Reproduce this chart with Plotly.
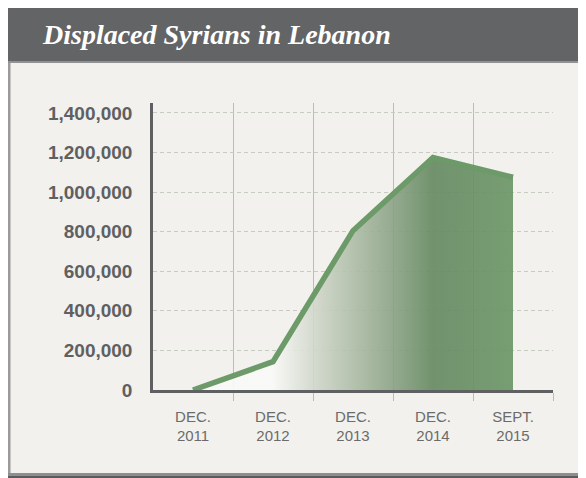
import plotly.graph_objects as go

# ---- data ----
categories = ["DEC.<br>2011", "DEC.<br>2012", "DEC.<br>2013", "DEC.<br>2014", "SEPT.<br>2015"]
displaced = [0, 143000, 805000, 1175000, 1075000]
y_ticks = [0, 200000, 400000, 600000, 800000, 1000000, 1200000, 1400000]
title_text = "Displaced Syrians in Lebanon"

x_pos = list(range(len(categories)))
boundaries = [i + 0.5 for i in x_pos]

# ---- geometry (figure pixel coords; page adds an 8px body margin) ----
W, H = 586, 478
PL, PR, PT, PB = 145, 545, 95, 382  # plot area in pixels


def px_x(p):
    return (p - PL) / (PR - PL)


def px_y(p):
    return (PB - p) / (PB - PT)


TICKFONT = "Liberation Sans, Arial, sans-serif"

fig = go.Figure()

fig.add_trace(go.Scatter(
    x=x_pos, y=displaced,
    mode="lines",
    line=dict(color="#6d9a69", width=5.5),
    fill="tozeroy",
    fillgradient=dict(
        type="horizontal", start=1, stop=4,
        colorscale=[
            [0.0, "rgba(249,249,247,0.92)"],
            [0.1667, "rgba(210,216,204,0.9)"],
            [0.3333, "rgba(174,189,167,0.9)"],
            [0.5, "rgba(138,162,133,0.9)"],
            [0.6667, "rgba(102,138,98,0.92)"],
            [1.0, "rgba(108,150,104,0.92)"],
        ],
    ),
    hoverinfo="skip",
    showlegend=False,
))

shapes = [
    # panel background
    dict(type="rect", xref="paper", yref="paper", layer="below",
         x0=px_x(0), x1=px_x(600), y0=px_y(467), y1=px_y(53),
         fillcolor="#f2f1ed", line=dict(width=0)),
    # left border of panel
    dict(type="rect", xref="paper", yref="paper", layer="below",
         x0=px_x(0), x1=px_x(2.5), y0=px_y(467), y1=px_y(53),
         fillcolor="#9b9b9b", line=dict(width=0)),
    # header bar
    dict(type="rect", xref="paper", yref="paper", layer="below",
         x0=px_x(0), x1=px_x(600), y0=px_y(53), y1=px_y(0),
         fillcolor="#636466", line=dict(width=0)),
    # line under header
    dict(type="rect", xref="paper", yref="paper", layer="below",
         x0=px_x(0), x1=px_x(600), y0=px_y(55), y1=px_y(53),
         fillcolor="#929294", line=dict(width=0)),
    # bottom bar
    dict(type="rect", xref="paper", yref="paper", layer="below",
         x0=px_x(0), x1=px_x(600), y0=px_y(468), y1=px_y(465),
         fillcolor="#8e8e90", line=dict(width=0)),
    dict(type="rect", xref="paper", yref="paper", layer="below",
         x0=px_x(0), x1=px_x(600), y0=px_y(480), y1=px_y(468),
         fillcolor="#5a5b5d", line=dict(width=0)),
]

fig.update_layout(
    width=W, height=H,
    margin=dict(l=PL, r=W - PR, t=PT, b=H - PB, pad=0),
    paper_bgcolor="white",
    plot_bgcolor="rgba(0,0,0,0)",
    shapes=shapes,
    showlegend=False,
    annotations=[dict(
        text=title_text, xref="paper", yref="paper",
        x=px_x(32), y=px_y(26), xanchor="left", yanchor="middle",
        showarrow=False,
        font=dict(family="Liberation Serif, DejaVu Serif, serif", size=28,
                  color="white", style="italic", weight="bold"),
    )],
    xaxis=dict(
        range=[-0.5, 4.5],
        tickmode="array", tickvals=x_pos, ticktext=categories,
        ticks="", showgrid=False, zeroline=False,
        showline=True, linecolor="#5f6062", linewidth=2.5,
        tickfont=dict(family=TICKFONT, size=15, color="#6b6b6b"),
        ticklabelstandoff=11,
        minor=dict(tickmode="array", tickvals=boundaries, showgrid=True,
                   gridcolor="#b9bdbe", gridwidth=1,
                   ticks="outside", ticklen=8, tickcolor="#b9bdbe", tickwidth=1),
    ),
    yaxis=dict(
        range=[0, 1450000],
        tickmode="array", tickvals=y_ticks, tickformat=",d",
        ticks="", showgrid=True, gridcolor="#c6cdc0", gridwidth=1,
        griddash="4px,3px", zeroline=False,
        showline=True, linecolor="#5f6062", linewidth=2.5,
        tickfont=dict(family=TICKFONT, size=19, color="#5f6062", weight="bold"),
        ticklabelstandoff=14,
    ),
)

fig.write_html("out.html")
